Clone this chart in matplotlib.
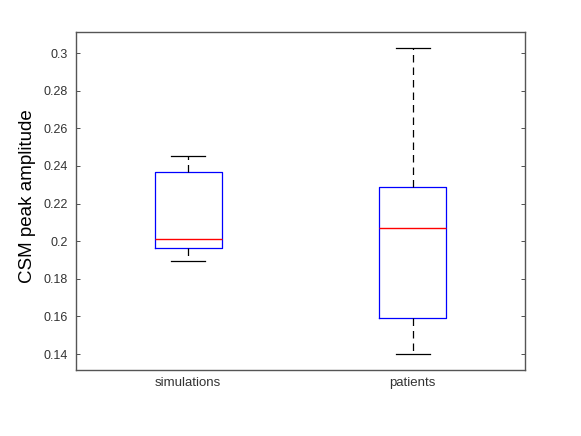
import matplotlib
matplotlib.use('Agg')
import matplotlib.pyplot as plt

plt.rcParams['font.family'] = ['Liberation Sans', 'DejaVu Sans']

# box statistics
groups = ['simulations', 'patients']
whislo = [0.1894, 0.1400]
q1 = [0.1963, 0.1593]
med = [0.2011, 0.2071]
q3 = [0.2367, 0.2288]
whishi = [0.2452, 0.3028]

yticks = [0.14, 0.16, 0.18, 0.20, 0.22, 0.24, 0.26, 0.28, 0.30]
ytick_labels = ['0.14', '0.16', '0.18', '0.2', '0.22', '0.24', '0.26', '0.28', '0.3']

stats = []
for i in range(len(groups)):
    stats.append({'label': groups[i], 'whislo': whislo[i], 'q1': q1[i], 'med': med[i],
                  'q3': q3[i], 'whishi': whishi[i], 'fliers': []})

fig = plt.figure(figsize=(5.81, 4.36), dpi=100)
ax = fig.add_axes([76 / 581, 1 - 370 / 436, 449 / 581, 338 / 436])

ax.bxp(stats, positions=[1, 2], widths=0.3, showfliers=False,
       boxprops=dict(color='blue', linewidth=0.9),
       medianprops=dict(color='red', linewidth=1.0),
       whiskerprops=dict(color='black', linestyle=(0, (6, 4)), linewidth=0.9),
       capprops=dict(color='black', linewidth=0.9),
       capwidths=0.15)

ax.set_xlim(0.5, 2.5)
ax.set_ylim(0.1315, 0.3112)
ax.set_yticks(yticks)
ax.set_yticklabels(ytick_labels)
ax.set_xticks([1, 2])
ax.set_xticklabels(groups)
ax.tick_params(axis='y', direction='in', length=3, labelsize=9, colors='#333333',
               right=True, width=0.6, pad=6)
ax.tick_params(axis='x', length=0, labelsize=9.5, colors='#333333', pad=5)
for sp in ax.spines.values():
    sp.set_color('#555555')
    sp.set_linewidth(1.0)

ax.set_ylabel('CSM peak amplitude', fontsize=13.5)
ax.yaxis.set_label_coords(-0.09, 0.513)

fig.savefig('out.png', dpi=100)
